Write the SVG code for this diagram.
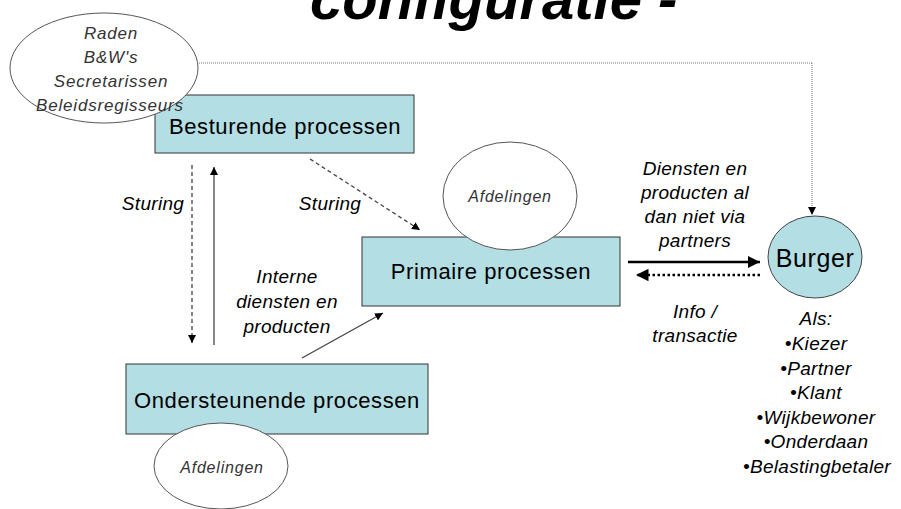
<svg xmlns="http://www.w3.org/2000/svg" width="901" height="509" viewBox="0 0 901 509">
  <style>
    .box { fill: #B3DEE3; stroke: #333; stroke-width: 1; }
    .oval { fill: #fff; stroke: #555; stroke-width: 1; }
    .boxtxt { font-family: "Liberation Sans", Arial, sans-serif; font-size: 22px; letter-spacing: 0.6px; fill: #000; text-anchor: middle; }
    .ovaltxt { font-family: "Liberation Sans", Arial, sans-serif; font-size: 17px; font-style: italic; letter-spacing: 0.8px; fill: #333; text-anchor: middle; }
    .lbl { font-family: "Liberation Sans", Arial, sans-serif; font-size: 19px; font-style: italic; letter-spacing: 0.3px; fill: #000; text-anchor: middle; }
    .title { font-family: "Liberation Sans", Arial, sans-serif; font-size: 58px; font-weight: bold; font-style: italic; fill: #000; }
    .line { fill: none; stroke: #444; stroke-width: 1.3; }
  </style>
  <defs>
    <marker id="arr" viewBox="0 0 10 10" refX="10" refY="5" markerWidth="8" markerHeight="8" markerUnits="userSpaceOnUse" orient="auto">
      <path d="M0,0 L10,5 L0,10 z" fill="#000"/>
    </marker>
    <marker id="arrBig" viewBox="0 0 10 10" refX="10" refY="5" markerWidth="5" markerHeight="5" orient="auto">
      <path d="M0,0 L10,5 L0,10 z" fill="#000"/>
    </marker>
  </defs>

  <rect width="901" height="509" fill="#fff"/>

  <!-- title, partly above the top edge -->
  <text class="title" x="310" y="19">configuratie -</text>

  <!-- connectors -->
  <g id="connectors">
    <!-- Burger back to the bestuur oval -->
    <polyline class="line" points="812,63 812,215" stroke-dasharray="1 1" marker-end="url(#arr)" style="stroke:#777;stroke-width:1"/>
    <line class="line" x1="812" y1="63" x2="186" y2="63" stroke-dasharray="1 1" marker-end="url(#arr)" style="stroke:#777;stroke-width:1"/>
    <!-- Sturing down to ondersteunende -->
    <line class="line" x1="192" y1="165" x2="192" y2="343" stroke-dasharray="4 3" marker-end="url(#arr)"/>
    <!-- ondersteunende up to besturende -->
    <line class="line" x1="214" y1="345" x2="214" y2="167" marker-end="url(#arr)"/>
    <!-- Sturing diagonal to primaire -->
    <line class="line" x1="310" y1="159" x2="420" y2="230" stroke-dasharray="4 3" marker-end="url(#arr)"/>
    <!-- interne diensten diagonal -->
    <line class="line" x1="302" y1="358" x2="383" y2="313" marker-end="url(#arr)"/>
    <!-- diensten to Burger -->
    <line x1="628" y1="262" x2="760" y2="262" stroke="#000" stroke-width="2.5" marker-end="url(#arrBig)"/>
    <!-- info back from Burger -->
    <line x1="760" y1="275" x2="636" y2="275" stroke="#000" stroke-width="2.5" stroke-dasharray="2.5 2.5" marker-end="url(#arrBig)"/>
  </g>

  <!-- Besturende processen -->
  <g id="besturende">
    <rect class="box" x="155" y="95" width="259" height="58"/>
    <text class="boxtxt" x="285" y="134">Besturende processen</text>
  </g>

  <!-- bestuur oval, drawn over the box corner -->
  <g id="bestuur">
    <ellipse class="oval" cx="104" cy="68" rx="94" ry="55"/>
    <text class="ovaltxt" x="111" y="39">Raden</text>
    <text class="ovaltxt" x="111" y="63">B&amp;W's</text>
    <text class="ovaltxt" x="111" y="87">Secretarissen</text>
    <text class="ovaltxt" x="110" y="111">Beleidsregisseurs</text>
  </g>

  <!-- Primaire processen -->
  <g id="primaire">
    <rect class="box" x="362" y="237" width="258" height="69"/>
    <text class="boxtxt" x="491" y="279">Primaire processen</text>
  </g>

  <g id="afdelingen-primair">
    <ellipse class="oval" cx="510" cy="196" rx="67" ry="54"/>
    <text class="ovaltxt" x="510" y="202" style="font-size:16px">Afdelingen</text>
  </g>

  <!-- Ondersteunende processen -->
  <g id="ondersteunende">
    <rect class="box" x="126" y="364" width="302" height="70"/>
    <text class="boxtxt" x="277" y="408">Ondersteunende processen</text>
  </g>

  <g id="afdelingen-ondersteunend">
    <ellipse class="oval" cx="221" cy="466" rx="67" ry="43"/>
    <text class="ovaltxt" x="222" y="473" style="font-size:16px">Afdelingen</text>
  </g>

  <!-- Burger -->
  <g id="burger">
    <ellipse class="box" cx="815" cy="257" rx="47" ry="41" style="stroke:#444"/>
    <text class="boxtxt" x="815" y="267" style="font-size:25px">Burger</text>
  </g>

  <!-- labels -->
  <g id="labels">
    <text class="lbl" x="153" y="210">Sturing</text>
    <text class="lbl" x="330" y="210">Sturing</text>

    <text class="lbl" x="287" y="283">Interne</text>
    <text class="lbl" x="287" y="308">diensten en</text>
    <text class="lbl" x="287" y="333">producten</text>

    <text class="lbl" x="695" y="175">Diensten en</text>
    <text class="lbl" x="695" y="199">producten al</text>
    <text class="lbl" x="695" y="223">dan niet via</text>
    <text class="lbl" x="695" y="247">partners</text>

    <text class="lbl" x="695" y="318">Info /</text>
    <text class="lbl" x="695" y="342">transactie</text>

    <text class="lbl" x="816" y="325">Als:</text>
    <text class="lbl" x="816" y="350">•Kiezer</text>
    <text class="lbl" x="816" y="375">•Partner</text>
    <text class="lbl" x="816" y="399">•Klant</text>
    <text class="lbl" x="816" y="424">•Wijkbewoner</text>
    <text class="lbl" x="816" y="448">•Onderdaan</text>
    <text class="lbl" x="817" y="473">•Belastingbetaler</text>
  </g>
</svg>
